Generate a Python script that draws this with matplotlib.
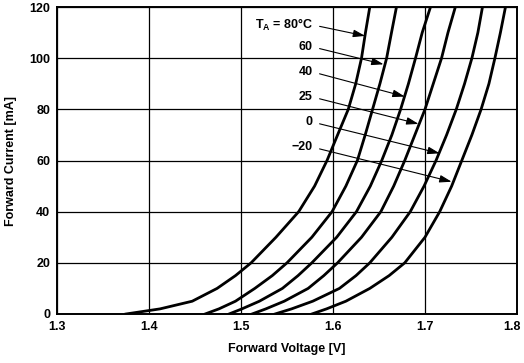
import matplotlib
matplotlib.use("Agg")
from matplotlib import pyplot as plt
from matplotlib.transforms import ScaledTranslation

plt.rcParams['font.family'] = ['Liberation Sans', 'DejaVu Sans']
plt.rcParams['font.weight'] = 'bold'
plt.rcParams['mathtext.fontset'] = 'custom'
plt.rcParams['mathtext.rm'] = 'Liberation Sans:bold'
plt.rcParams['mathtext.bf'] = 'Liberation Sans:bold'

current = [0, 2, 5, 10, 15, 20, 30, 40, 50, 60, 70, 80, 90, 100, 110, 120]

# forward voltage [V] per ambient temperature
v_80 = [1.375, 1.412, 1.447, 1.474, 1.494, 1.511, 1.538, 1.5627, 1.580, 1.5935,
        1.605, 1.6166, 1.6247, 1.631, 1.6353, 1.640]
v_60 = [1.461, 1.476, 1.494, 1.515, 1.534, 1.550, 1.577, 1.599, 1.614, 1.6265,
        1.635, 1.643, 1.651, 1.6583, 1.6636, 1.669]
v_40 = [1.487, 1.501, 1.520, 1.545, 1.562, 1.577, 1.604, 1.6255, 1.6406, 1.653,
        1.664, 1.6735, 1.682, 1.6897, 1.697, 1.706]
v_25 = [1.512, 1.527, 1.547, 1.573, 1.590, 1.605, 1.631, 1.652, 1.666, 1.678,
        1.689, 1.700, 1.709, 1.718, 1.725, 1.733]
v_0 = [1.537, 1.555, 1.578, 1.607, 1.625, 1.640, 1.664, 1.684, 1.699, 1.712,
       1.7235, 1.734, 1.743, 1.751, 1.7575, 1.7625]
v_m20 = [1.577, 1.593, 1.614, 1.640, 1.661, 1.678, 1.700, 1.716, 1.729, 1.740,
         1.751, 1.761, 1.7695, 1.776, 1.782, 1.7875]

curves = [v_80, v_60, v_40, v_25, v_0, v_m20]
labels = [r'$\mathbf{T_A}$ = 80°C', '60', '40', '25', '0', '\u221220']
# where each arrow points (on its curve) and where the label sits
tip_v = [1.635, 1.655, 1.678, 1.693, 1.716, 1.729]
tip_i = [108.7, 97.6, 85.0, 74.3, 62.8, 51.7]
label_i = [113.0, 104.4, 94.6, 84.8, 75.0, 65.2]
label_v = 1.578

xticks = [1.3, 1.4, 1.5, 1.6, 1.7, 1.8]
yticks = [0, 20, 40, 60, 80, 100, 120]

fig = plt.figure(figsize=(5.24, 3.63), dpi=100)
ax = fig.add_axes([0.1088, 0.135, 0.8778, 0.8457])

for v in curves:
    ax.plot(v, current, color='black', lw=2.0, solid_joinstyle='round')

for lab, tv, ti, li in zip(labels, tip_v, tip_i, label_i):
    ax.annotate(lab, xy=(tv, ti), xytext=(label_v, li),
                ha='right', va='center', fontsize=9, fontweight='bold',
                arrowprops=dict(arrowstyle='-|>,head_length=0.8,head_width=0.25',
                                color='black', lw=0.8, relpos=(1, 0.5),
                                shrinkA=3, shrinkB=0))

ax.set_xlim(1.3, 1.8)
ax.set_ylim(0, 120)
ax.set_xticks(xticks)
ax.set_yticks(yticks)
ax.set_xticklabels([f'{t:.1f}' for t in xticks])
ax.tick_params(length=0, labelsize=9, pad=5)
for lab in ax.get_xticklabels() + ax.get_yticklabels():
    lab.set_fontweight('bold')
# last x label sits against the right edge, as in the scan
last = ax.get_xticklabels()[-1]
last.set_horizontalalignment('right')
last.set_transform(last.get_transform() + ScaledTranslation(4 / 100, 0, fig.dpi_scale_trans))

ax.grid(True, color='black', lw=0.9)
ax.set_axisbelow(True)
for s in ax.spines.values():
    s.set_linewidth(1.4)

ax.set_xlabel('Forward Voltage [V]', fontsize=9, fontweight='bold', labelpad=7)
ax.set_ylabel('Forward Current [mA]', fontsize=9, fontweight='bold', labelpad=9)

fig.savefig('out.png', dpi=100)
